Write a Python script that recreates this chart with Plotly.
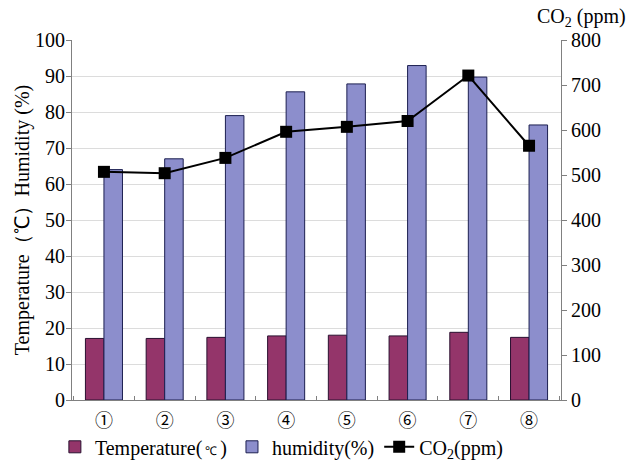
import plotly.graph_objects as go

categories = ["①", "②", "③", "④", "⑤", "⑥", "⑦", "⑧"]
temperature = [17.1, 17.1, 17.4, 17.8, 18.0, 17.8, 18.8, 17.4]
humidity = [64.0, 67.0, 79.0, 85.6, 87.8, 92.9, 89.7, 76.4]
co2 = [507, 504, 538, 596, 607, 620, 721, 565]

left_ticks = list(range(0, 101, 10))
right_ticks = list(range(0, 801, 100))

font_family = "Liberation Serif, Times New Roman, serif"

fig = go.Figure()
fig.add_trace(go.Bar(
    x=categories, y=temperature, name="Temperature(<span style='font-size:12px'> ℃ </span>)",
    marker=dict(color="#94356A", line=dict(color="#2a1030", width=1)),
))
fig.add_trace(go.Bar(
    x=categories, y=humidity, name="humidity(%)",
    marker=dict(color="#8C8ECC", line=dict(color="#1c1f50", width=1)),
))
fig.add_trace(go.Scatter(
    x=categories, y=co2, name="CO<sub>2</sub>(ppm)", yaxis="y2",
    mode="lines+markers",
    line=dict(color="black", width=2),
    marker=dict(symbol="square", size=12, color="black"),
))

fig.update_layout(
    width=631, height=464,
    margin=dict(l=72, r=70, t=40, b=64, autoexpand=False),
    paper_bgcolor="white", plot_bgcolor="white",
    font=dict(family=font_family, size=20, color="black"),
    barmode="group", bargap=0.39, bargroupgap=0,
    showlegend=True,
    legend=dict(orientation="h", x=-0.035, xanchor="left", y=-0.13, yanchor="middle",
                font=dict(size=20, family=font_family), tracegroupgap=0,
                bgcolor="rgba(0,0,0,0)"),
    xaxis=dict(
        showline=True, linecolor="#808080", linewidth=1,
        ticks="inside", ticklen=4, tickcolor="#808080", tickson="boundaries",
        tickfont=dict(size=18, family="Noto Sans CJK SC"),
        ticklabelstandoff=4,
        showgrid=False,
    ),
    yaxis=dict(
        range=[0, 100], tickvals=left_ticks,
        showline=True, linecolor="#808080", linewidth=1,
        ticks="outside", ticklen=5, tickcolor="#808080",
        tickfont=dict(family=font_family, size=20),
        ticklabelstandoff=-3,
        showgrid=True, gridcolor="#dcdcdc", gridwidth=1,
        zeroline=False,
        title=dict(text="Temperature（℃）Humidity (%)", font=dict(size=20, family=font_family), standoff=0),
    ),
    yaxis2=dict(
        range=[0, 800], tickvals=right_ticks,
        overlaying="y", side="right",
        showline=True, linecolor="#808080", linewidth=1,
        ticks="outside", ticklen=5, tickcolor="#808080",
        tickfont=dict(family=font_family, size=20),
        showgrid=False, zeroline=False,
    ),
    annotations=[dict(
        text="CO<sub>2</sub> (ppm)", xref="paper", yref="paper",
        x=1.138, y=1.0, yshift=8, xanchor="right", yanchor="bottom",
        showarrow=False, font=dict(size=20, family=font_family),
    )],
)

fig.write_html("out.html")
